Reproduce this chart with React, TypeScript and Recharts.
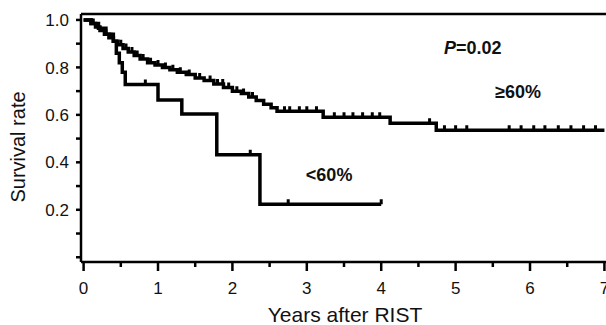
import React from 'react';
import { LineChart, Line, XAxis, YAxis, ReferenceLine, ReferenceDot, Label } from 'recharts';

// >=60% group: step times and survival after each step
const hiTimes = [0, 0.1, 0.16, 0.22, 0.28, 0.34, 0.4, 0.46, 0.53, 0.6, 0.68, 0.76, 0.86, 0.96, 1.06, 1.16, 1.26, 1.38, 1.5, 1.62, 1.75, 1.88, 2.0, 2.12, 2.22, 2.32, 2.42, 2.52, 2.6, 3.22, 4.12, 4.74, 7.0];
const hiSurv = [1.0, 0.985, 0.97, 0.955, 0.94, 0.925, 0.91, 0.895, 0.88, 0.865, 0.85, 0.835, 0.82, 0.81, 0.8, 0.79, 0.78, 0.77, 0.755, 0.745, 0.73, 0.715, 0.7, 0.69, 0.675, 0.66, 0.645, 0.63, 0.615, 0.59, 0.565, 0.535, 0.535];
const hiCensored = [0.13, 0.19, 0.3, 0.37, 0.5, 0.57, 0.65, 0.72, 0.8, 0.9, 1.0, 1.1, 1.2, 1.3, 1.42, 1.56, 1.7, 1.8, 1.87, 1.95, 2.06, 2.15, 2.27, 2.7, 2.77, 2.9, 3.0, 3.13, 3.37, 3.5, 3.62, 3.75, 3.88, 3.98, 4.65, 4.85, 5.0, 5.15, 5.72, 5.88, 6.05, 6.2, 6.38, 6.55, 6.72, 6.88];

// <60% group
const loTimes = [0, 0.1, 0.2, 0.3, 0.4, 0.44, 0.48, 0.52, 0.56, 1.0, 1.32, 1.79, 2.37, 4.0];
const loSurv = [1.0, 0.985, 0.965, 0.94, 0.91, 0.86, 0.82, 0.78, 0.728, 0.663, 0.604, 0.432, 0.223, 0.223];
const loCensored = [0.83, 2.24, 2.75, 4.0];

const xTicks = [0, 0.5, 1, 1.5, 2, 2.5, 3, 3.5, 4, 4.5, 5, 5.5, 6, 6.5, 7];
const yTicks = [0, 0.1, 0.2, 0.3, 0.4, 0.5, 0.6, 0.7, 0.8, 0.9, 1.0];

const FONT = '"Liberation Sans", Arial, sans-serif';

function survAt(times: number[], surv: number[], t: number) {
    let s = surv[0];
    for (let i = 0; i < times.length; i++) {
        if (times[i] <= t) s = surv[i];
    }
    return s;
}

function buildCurve(times: number[], surv: number[], censored: number[]) {
    const pts = times.map((t, i) => ({ t, s: surv[i], c: false }));
    censored.forEach((t) => {
        const existing = pts.find((p) => p.t === t);
        if (existing) existing.c = true;
        else pts.push({ t, s: survAt(times, surv, t), c: true });
    });
    return pts.sort((a, b) => a.t - b.t);
}

const hiData = buildCurve(hiTimes, hiSurv, hiCensored);
const loData = buildCurve(loTimes, loSurv, loCensored);

const CensorDot = (props: any) => {
    const { cx, cy, payload, index } = props;
    if (!payload || !payload.c) return <g key={index} />;
    return <line key={index} x1={cx} y1={cy} x2={cx} y2={cy - 5} stroke="#000" strokeWidth={3} />;
};

const XTick = (props: any) => {
    const { x, y, payload } = props;
    const major = Number.isInteger(payload.value);
    return (
        <g>
            <line x1={x} y1={y} x2={x} y2={y + (major ? 9 : 5)} stroke="#000" strokeWidth={2.5} />
            {major && (
                <text x={x} y={y + 32} textAnchor="middle" fontSize={17} fontFamily={FONT} fill="#111">
                    {payload.value}
                </text>
            )}
        </g>
    );
};

const YTick = (props: any) => {
    const { x, y, payload } = props;
    const k = Math.round(payload.value * 10);
    const major = k > 0 && k % 2 === 0;
    return (
        <g>
            <line x1={x - 5} y1={y} x2={x} y2={y} stroke="#000" strokeWidth={2.5} />
            {major && (
                <text x={x - 12} y={y} dy="0.36em" textAnchor="end" fontSize={17} fontFamily={FONT} fill="#111">
                    {payload.value.toFixed(1)}
                </text>
            )}
        </g>
    );
};

const textShape = (content: React.ReactNode) => (p: any) => (
    <text x={p.cx} y={p.cy} dy="0.36em" textAnchor="middle" fontSize={18} fontWeight="bold" fontFamily={FONT} fill="#111">
        {content}
    </text>
);

export default function App() {
    return (
        <div style={{ position: 'absolute', left: 0, top: 0, width: 606, height: 325, overflow: 'hidden', background: '#fff' }}>
            <LineChart width={640} height={325} margin={{ top: 14, right: 20.7, bottom: 62, left: 80 }}>
                <XAxis
                    dataKey="t"
                    type="number"
                    domain={[-0.035, 7.2]}
                    ticks={xTicks}
                    allowDataOverflow
                    height={1}
                    tickSize={0}
                    tickMargin={0}
                    tickLine={false}
                    tick={XTick}
                    axisLine={{ stroke: '#000', strokeWidth: 2.5 }}
                >
                    <Label
                        content={() => (
                            <text x={345} y={322} textAnchor="middle" fontSize={21} fontFamily={FONT} fill="#111">
                                Years after RIST
                            </text>
                        )}
                    />
                </XAxis>
                <YAxis
                    type="number"
                    domain={[-0.02, 1.025]}
                    ticks={yTicks}
                    allowDataOverflow
                    width={1}
                    tickSize={0}
                    tickMargin={0}
                    tickLine={false}
                    tick={YTick}
                    axisLine={{ stroke: '#000', strokeWidth: 2.5 }}
                >
                    <Label
                        content={() => (
                            <text x={25} y={147} transform="rotate(-90 25 147)" textAnchor="middle" fontSize={20} fontFamily={FONT} fill="#111">
                                Survival rate
                            </text>
                        )}
                    />
                </YAxis>
                <ReferenceLine y={1.025} stroke="#000" strokeWidth={2.5} />
                <Line
                    data={hiData}
                    dataKey="s"
                    type="stepAfter"
                    stroke="#000"
                    strokeWidth={3.5}
                    dot={CensorDot}
                    activeDot={false}
                    isAnimationActive={false}
                />
                <Line
                    data={loData}
                    dataKey="s"
                    type="stepAfter"
                    stroke="#000"
                    strokeWidth={3.5}
                    dot={CensorDot}
                    activeDot={false}
                    isAnimationActive={false}
                />
                <ReferenceDot
                    x={5.23}
                    y={0.882}
                    r={0}
                    shape={textShape(<><tspan fontStyle="italic">P</tspan>=0.02</>)}
                />
                <ReferenceDot x={5.84} y={0.697} r={0} shape={textShape('≥60%')} />
                <ReferenceDot x={3.3} y={0.347} r={0} shape={textShape('<60%')} />
            </LineChart>
        </div>
    );
}
